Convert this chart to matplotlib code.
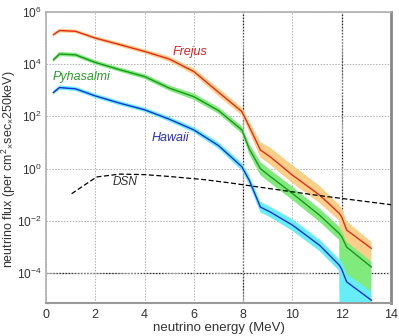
import numpy as np
import matplotlib
matplotlib.use("Agg")
import matplotlib.pyplot as plt

plt.rcParams['font.family'] = ['Liberation Sans', 'DejaVu Sans']
plt.rcParams['mathtext.fontset'] = 'custom'
plt.rcParams['mathtext.rm'] = 'Liberation Sans'
plt.rcParams['mathtext.it'] = 'Liberation Sans:italic'

# energy grid (MeV)
energy = [0.3, 0.55, 1.2, 2.0, 3.0, 4.0, 5.0, 6.0, 7.0, 7.95, 8.25, 8.7, 9.1,
          10.0, 11.1, 11.9, 12.0, 12.2, 13.2]

# log10 flux
frejus_log = [5.12, 5.28, 5.25, 4.99, 4.74, 4.48, 4.19, 3.71, 2.92, 2.18, 1.60,
              0.71, 0.45, -0.25, -1.01, -1.71, -1.85, -2.35, -3.05]
pyha_log = [4.16, 4.38, 4.35, 4.06, 3.78, 3.52, 3.08, 2.75, 2.22, 1.48, 0.75,
            0.00, -0.30, -0.95, -1.78, -2.48, -2.60, -3.00, -3.76]
hawaii_log = [2.91, 3.10, 3.05, 2.78, 2.50, 2.25, 1.89, 1.48, 0.88, 0.07, -0.45,
              -1.47, -1.66, -2.16, -2.93, -3.69, -3.85, -4.33, -5.03]

# band half-widths (dex) above / below
frejus_up = [0.07, 0.07, 0.07, 0.07, 0.08, 0.08, 0.10, 0.12, 0.15, 0.15, 0.20,
             0.30, 0.35, 0.38, 0.35, 0.32, 0.32, 0.33, 0.25]
frejus_dn = [0.07, 0.07, 0.07, 0.07, 0.08, 0.08, 0.10, 0.12, 0.15, 0.15, 0.20,
             0.28, 0.30, 0.31, 0.30, 0.28, 9.0, 9.0, 9.0]
pyha_up = [0.08, 0.08, 0.08, 0.08, 0.08, 0.09, 0.10, 0.12, 0.12, 0.14, 0.20,
           0.25, 0.25, 0.25, 0.25, 0.25, 0.22, 0.20, 0.20]
pyha_dn = [0.08, 0.08, 0.08, 0.08, 0.08, 0.09, 0.10, 0.12, 0.12, 0.14, 0.20,
           0.25, 0.25, 0.25, 0.25, 0.25, 9.0, 9.0, 9.0]
hawaii_up = [0.08, 0.08, 0.08, 0.08, 0.08, 0.08, 0.09, 0.10, 0.12, 0.14, 0.18,
             0.20, 0.20, 0.22, 0.22, 0.22, 0.30, 0.30, 0.33]
hawaii_dn = [0.08, 0.08, 0.08, 0.08, 0.08, 0.08, 0.09, 0.10, 0.12, 0.14, 0.18,
             0.20, 0.20, 0.22, 0.22, 0.22, 9.0, 9.0, 9.0]

# diffuse supernova neutrinos
dsn_energy = [1.04, 2.05, 3.0, 4.0, 5.0, 6.4, 7.5, 8.3, 11.0, 14.0]
dsn_log = [-0.96, -0.32, -0.21, -0.23, -0.30, -0.42, -0.55, -0.66, -1.02, -1.38]

fig = plt.figure(figsize=(3.99, 3.36), dpi=100)
ax = fig.add_axes([46/399, 1-303.3/336, (391-46)/399, (303.3-11.7)/336])

e = np.array(energy)
series = [
    (frejus_log, frejus_up, frejus_dn, '#fccf88', '#e8281c'),
    (pyha_log, pyha_up, pyha_dn, '#80ea7c', '#1e961e'),
    (hawaii_log, hawaii_up, hawaii_dn, '#66eef6', '#1a2ee0'),
]
for lg, up, dn, fc, lc in series:
    lg = np.array(lg)
    ax.fill_between(e, 10**(lg - np.array(dn)), 10**(lg + np.array(up)),
                    color=fc, lw=0, zorder=2)
for lg, up, dn, fc, lc in series:
    ax.plot(e, 10**np.array(lg), color=lc, lw=1.0, zorder=3)

ax.plot(dsn_energy, 10**np.array(dsn_log), color='black',
        lw=0.9, ls=(0, (4, 2)), zorder=4)

ax.set_yscale('log')
ax.set_xlim(0, 14)
ax.set_ylim(10**-5.15, 1e6)
ax.set_xticks([0, 2, 4, 6, 8, 10, 12, 14])
ax.set_yticks([1e-4, 1e-2, 1e0, 1e2, 1e4, 1e6])
ax.set_yticklabels([r'$10^{-4}$', r'$10^{-2}$', r'$10^{0}$', r'$10^{2}$',
                    r'$10^{4}$', r'$10^{6}$'])
ax.yaxis.set_minor_locator(matplotlib.ticker.NullLocator())
ax.tick_params(length=0, labelsize=9, colors='#333333', pad=4)
ax.tick_params(axis='y', labelsize=8.6, pad=3)

ax.grid(True, which='major', color='#b0b0b0', ls=(0, (1.5, 1.5)), lw=0.7, zorder=1)
for xv in (8, 12):
    ax.axvline(xv, color='#222222', ls=(0, (1.5, 1)), lw=0.9, zorder=1.5)
ax.axhline(1e-4, color='#222222', ls=(0, (1.5, 1)), lw=0.9, zorder=1.5)

for s in ('left', 'top'):
    ax.spines[s].set_color('#b0b0b0')
    ax.spines[s].set_linewidth(1.2)
ax.spines['bottom'].set_color('#999999')
ax.spines['bottom'].set_linewidth(1.5)
ax.spines['right'].set_color('#888888')
ax.spines['right'].set_linewidth(2.0)

ax.text(5.15, 10**4.46, 'Frejus', color='#e02020', style='italic',
        fontsize=9, va='center', ha='left', zorder=5)
ax.text(0.28, 10**3.49, 'Pyhasalmi', color='#2a9a2a', style='italic',
        fontsize=9, va='center', ha='left', zorder=5)
ax.text(4.3, 10**1.17, 'Hawaii', color='#2a2ac8', style='italic',
        fontsize=9, va='center', ha='left', zorder=5)
ax.text(2.72, 10**-0.51, 'DSN', color='#303030', style='italic',
        fontsize=8.5, va='center', ha='left', zorder=5)

ax.set_xlabel('neutrino energy (MeV)', fontsize=9.5, color='#333333', labelpad=1)
ax.set_ylabel(r'neutrino flux (per cm$^{2}$$_{\times}$sec$_{\times}$250keV)',
              fontsize=9.0, color='#333333')
ax.yaxis.set_label_coords(-0.082, 0.46)

fig.savefig('out.png', dpi=100)
